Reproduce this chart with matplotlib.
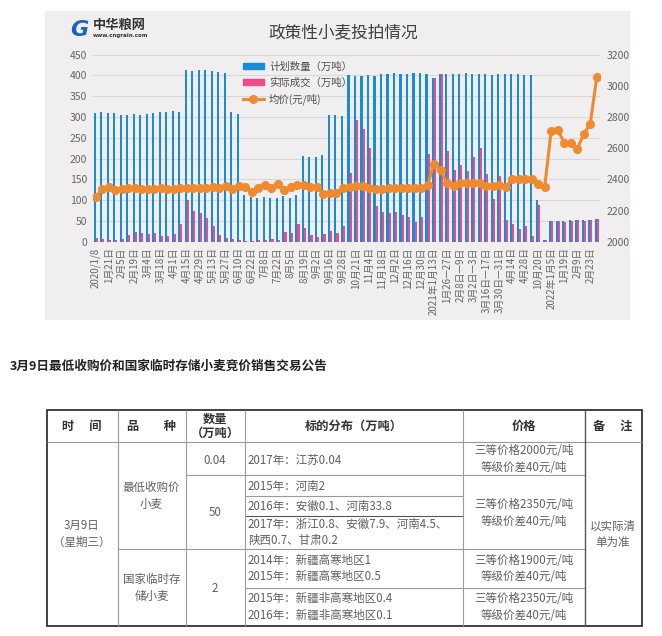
import matplotlib
matplotlib.use('Agg')
import matplotlib.pyplot as plt
from matplotlib.patches import Rectangle, Patch
from matplotlib.lines import Line2D
import numpy as np

plt.rcParams['font.family'] = ['Noto Sans CJK SC', 'DejaVu Sans']

# ---- chart data (78 auction rounds) ----
plan = [310, 312, 310, 310, 305, 305, 307, 305, 308, 310, 312, 312, 314, 312,
        414, 411, 414, 414, 411, 409, 406, 312, 308,
        112, 107, 105, 107, 105, 105, 110, 105, 112,
        206, 203, 203, 209, 306, 306, 303, 401, 399,
        399, 400, 399, 403, 403, 405, 403, 403, 405, 405, 403, 395, 403, 403,
        403, 403, 405, 403, 403, 403, 400, 403, 403, 403, 403, 400, 400,
        100, 5, 51, 51, 51, 53, 52, 52, 53, 54]
actual = [10, 6, 4, 3, 6, 16, 23, 22, 19, 21, 14, 14, 19, 43,
          100, 74, 69, 57, 37, 16, 8, 6, 4,
          1, 2, 3, 3, 6, 5, 23, 22, 43,
          32, 15, 11, 18, 25, 22, 38, 165, 293,
          271, 225, 87, 71, 68, 71, 65, 60, 48, 59, 210, 394, 403, 219,
          173, 184, 170, 205, 226, 164, 103, 158, 52, 43, 31, 37, 14,
          88, 4, 51, 51, 47, 51, 52, 51, 52, 54]
price = [2289, 2336, 2349, 2332, 2336, 2343, 2343, 2341, 2341, 2338, 2343, 2338,
         2341, 2345, 2345, 2343, 2343, 2345, 2349, 2347, 2356, 2341, 2358, 2353,
         2317, 2343, 2364, 2347, 2371, 2332, 2353, 2362, 2362, 2353, 2351, 2304,
         2315, 2315, 2345, 2349, 2358, 2358, 2345, 2338, 2340, 2343, 2345, 2343,
         2345, 2343, 2345, 2364, 2501, 2460, 2375, 2360, 2375, 2375, 2375, 2377,
         2358, 2358, 2366, 2351, 2403, 2403, 2400, 2403, 2368, 2353, 2711, 2717,
         2636, 2632, 2593, 2692, 2756, 3056]
# every second round is labelled on the axis
tick_labels = ['2020/1/8', '1月21日', '2月5日', '2月19日', '3月4日', '3月18日', '4月1日',
               '4月15日', '4月29日', '5月13日', '5月27日', '6月10日', '6月22日', '7月8日',
               '7月22日', '8月5日', '8月19日', '9月2日', '9月16日', '9月28日', '10月21日',
               '11月4日', '11月18日', '12月2日', '12月16日', '12月30日', '2021年1月13日',
               '1月26—27日', '2月8日—9日', '3月2日—3日', '3月16日—17日', '3月30日—31日',
               '4月14日', '4月28日', '10月20日', '2022年1月5日', '1月19日', '2月9日', '2月23日']
series_names = ['计划数量（万吨）', '实际成交（万吨）', '均价(元/吨)']
chart_title = '政策性小麦投拍情况'

# ---- table data ----
heading = '3月9日最低收购价和国家临时存储小麦竞价销售交易公告'
header = ['时　 间', '品　　种', '数量\n（万吨）', '标的分布（万吨）', '价格', '备　 注']
date_cell = '3月9日\n（星期三）'
kinds = ['最低收购价\n小麦', '国家临时存\n储小麦']
amounts = ['0.04', '50', '2']
lots = ['2017年：江苏0.04', '2015年：河南2', '2016年：安徽0.1、河南33.8',
        '2017年：浙江0.8、安徽7.9、河南4.5、\n陕西0.7、甘肃0.2',
        '2014年：新疆高寒地区1\n2015年：新疆高寒地区0.5',
        '2015年：新疆非高寒地区0.4\n2016年：新疆非高寒地区0.1']
prices = ['三等价格2000元/吨\n等级价差40元/吨', '三等价格2350元/吨\n等级价差40元/吨',
          '三等价格1900元/吨\n等级价差40元/吨', '三等价格2350元/吨\n等级价差40元/吨']
note = '以实际清\n单为准'

W, H = 662, 636
fig = plt.figure(figsize=(W / 100, H / 100), dpi=100)
fig.patch.set_facecolor('white')

# overlay in pixel coordinates
ov = fig.add_axes([0, 0, 1, 1], zorder=-1)
ov.set_xlim(0, W)
ov.set_ylim(H, 0)
ov.axis('off')
ov.add_patch(Rectangle((45, 11), 585, 309, facecolor='#f0eeef', edgecolor='none'))

# logo + title
ov.text(79, 30, 'G', fontsize=16, fontweight='bold', color='#1b63b5', ha='center', va='center',
        style='italic', family='DejaVu Sans')
ov.text(93, 25, '中华粮网', fontsize=9.5, fontweight='bold', color='#333333', va='center')
ov.text(93, 36, 'www.cngrain.com', fontsize=4, fontweight='bold', color='#333333', va='center',
        family='DejaVu Sans')
ov.text(343, 33, chart_title, fontsize=12, color='#404040', ha='center', va='center')

# ---- chart ----
blue = '#1a8cd6'
pink = '#ee4c89'
orange = '#f08a2e'
x = np.arange(len(plan))
ax = fig.add_axes([92.5 / W, 1 - 241.7 / H, (600 - 92.5) / W, (241.7 - 54.7) / H])
ax.set_facecolor('none')
ax.bar(x - 0.16, plan, width=0.32, color=blue, zorder=2)
ax.bar(x + 0.16, actual, width=0.32, color=pink, zorder=2)
ax.set_xlim(-0.5, len(plan) - 0.5)
ax.set_ylim(0, 450)
ax.set_yticks(np.arange(0, 451, 50))
ax.grid(axis='y', color='#d9d9d9', lw=0.8, zorder=0)
ax.set_axisbelow(True)
ax.set_xticks(x[::2])
ax.set_xticklabels(tick_labels, rotation=90, fontsize=7, color='#666666')
ax.tick_params(axis='x', length=0, pad=4)
ax.tick_params(axis='y', length=0, pad=4, labelsize=7.5, labelcolor='#666666')
for s in ax.spines.values():
    s.set_visible(False)

ax2 = ax.twinx()
ax2.set_facecolor('none')
ax2.plot(x, price, color=orange, lw=2.2, marker='o', ms=5.5, zorder=3)
ax2.set_ylim(2000, 3200)
ax2.set_yticks(np.arange(2000, 3201, 200))
ax2.tick_params(axis='y', length=0, pad=5, labelsize=7.5, labelcolor='#666666')
for s in ax2.spines.values():
    s.set_visible(False)

handles = [Patch(color=blue), Patch(color=pink),
           Line2D([], [], color=orange, lw=2.2, marker='o', ms=5.5)]
ax2.legend(handles, series_names, loc='upper left', bbox_to_anchor=(243 / W, 1 - 61.5 / H),
           bbox_transform=fig.transFigure, frameon=False, fontsize=7.5, labelcolor='#505050',
           borderpad=0, borderaxespad=0, handlelength=2.0, handleheight=0.6,
           labelspacing=0.55, handletextpad=0.5, numpoints=1)

# ---- heading ----
ov.text(10, 366, heading, fontsize=9.1, fontweight='bold', color='#222222', va='center')

# ---- table ----
L, R, T, B = 47, 641.5, 409.5, 625.5
cx = [47, 117.5, 185.5, 244.5, 462.5, 584.5, 641.5]
dark = '#333333'
light = '#9a9a9a'


def hline(y, x0, x1, c=light, lw=0.8):
    ov.plot([x0, x1], [y, y], color=c, lw=lw, solid_capstyle='butt')


def vline(xx, y0, y1, c=light, lw=0.8):
    ov.plot([xx, xx], [y0, y1], color=c, lw=lw, solid_capstyle='butt')


hline(441.5, L, R)
hline(474.5, cx[2], cx[5])
hline(495.5, cx[3], cx[4])
hline(515.5, cx[3], cx[4], c='#555555')
hline(548.5, cx[1], cx[5])
hline(587.5, cx[3], cx[5])
for xx in cx[1:5]:
    vline(xx, T, B)
vline(cx[5], T, B, c='#555555', lw=1)
ov.add_patch(Rectangle((L, T), R - L, B - T, fill=False, edgecolor=dark, lw=1.3))

tfont = dict(fontsize=8.3, color='#606060', va='center', linespacing=1.35)
head_y = 426
for i, h in enumerate(header):
    ov.text((cx[i] + cx[i + 1]) / 2, head_y, h, ha='center', fontsize=8.8,
            fontweight='bold', color='#333333', va='center', linespacing=1.1)

ov.text(81.5, 534, date_cell, ha='center', **tfont)
ov.text(151.5, 496, kinds[0], ha='center', **tfont)
ov.text(151.5, 588, kinds[1], ha='center', **tfont)
ov.text(215, 460, amounts[0], ha='center', **tfont)
ov.text(215, 512, amounts[1], ha='center', **tfont)
ov.text(215, 588, amounts[2], ha='center', **tfont)

lot_y = [460, 486, 506, 532.5, 568.5, 607]
for txt, yy in zip(lots, lot_y):
    ov.text(248, yy, txt, ha='left', **tfont)

price_y = [459, 513, 568.5, 607]
for txt, yy in zip(prices, price_y):
    ov.text(523.5, yy, txt, ha='center', **tfont)

ov.text(613, 534.5, note, ha='center', **tfont)

fig.savefig('out.png', dpi=100, facecolor='white')
